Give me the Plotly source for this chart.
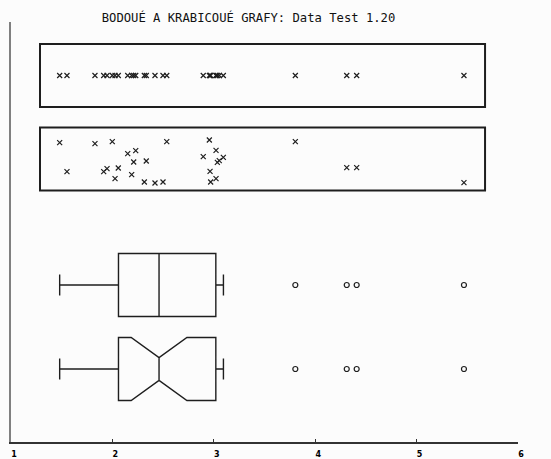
import plotly.graph_objects as go

# ---- data ----
values = [1.480, 1.552, 1.828, 1.914, 1.947, 1.999, 2.026, 2.058, 2.151, 2.190,
          2.210, 2.230, 2.315, 2.334, 2.420, 2.499, 2.536, 2.896, 2.956, 2.963,
          2.969, 3.022, 3.022, 3.035, 3.054, 3.094, 3.804, 4.311, 4.409, 5.467]
# vertical jitter of each point in the jittered dot plot (px, + = up)
jitter = [16.3, -12.7, 15.3, -12.7, -9.7, 17.3, -19.7, -9.0, 5.3, -15.7,
          -3.0, 8.3, -23.0, -2.0, -24.0, -23.0, 17.3, 2.3, 19.0, -12.3,
          -23.0, 8.7, -19.7, -3.3, -1.7, 1.7, 17.3, -8.7, -8.7, -23.7]
box_q1 = [2.06]
box_median = [2.46]
box_q3 = [3.02]
box_lowerfence = [1.48]
box_upperfence = [3.095]
notch_span = [0.275]
outliers = [3.804, 4.311, 4.409, 5.467]
tick_vals = [1, 2, 3, 4, 5, 6]
tick_text = ["1", "2", "3", "4", "5", "6"]
title_text = "BODOUÉ A KRABICOUÉ GRAFY: Data Test 1.20"

# ---- layout constants (vertical positions in px above the x axis) ----
Y_DOT = 366.5
Y_JIT = 283.0
Y_BOX = 157.0
Y_NOTCH = 73.0
BOX_W = 63.0
STRIP_HALF = 31.5
FRAME_X0, FRAME_X1 = 1.286, 5.675
INK = "#1e1e1e"

fig = go.Figure()

# dot plot
fig.add_trace(go.Scatter(
    x=values, y=[Y_DOT] * len(values), mode="markers",
    marker=dict(symbol="x-thin", size=5, color=INK, line=dict(width=1.2, color=INK)),
    showlegend=False, hoverinfo="x"))

# jittered dot plot
fig.add_trace(go.Scatter(
    x=values, y=[Y_JIT + j for j in jitter], mode="markers",
    marker=dict(symbol="x-thin", size=5, color=INK, line=dict(width=1.2, color=INK)),
    showlegend=False, hoverinfo="x"))

# plain box plot
fig.add_trace(go.Box(
    q1=box_q1, median=box_median, q3=box_q3,
    lowerfence=box_lowerfence, upperfence=box_upperfence,
    y=[Y_BOX], orientation="h", width=BOX_W, whiskerwidth=0.33,
    boxpoints=False, fillcolor="rgba(0,0,0,0)",
    line=dict(color=INK, width=1.4), showlegend=False))

# notched box plot
fig.add_trace(go.Box(
    q1=box_q1, median=box_median, q3=box_q3,
    lowerfence=box_lowerfence, upperfence=box_upperfence,
    notched=True, notchspan=notch_span, notchwidth=0.32,
    y=[Y_NOTCH], orientation="h", width=BOX_W, whiskerwidth=0.33,
    boxpoints=False, fillcolor="rgba(0,0,0,0)",
    line=dict(color=INK, width=1.4), showlegend=False))

# outliers
for yc in (Y_BOX, Y_NOTCH):
    fig.add_trace(go.Scatter(
        x=outliers, y=[yc] * len(outliers), mode="markers",
        marker=dict(symbol="circle-open", size=5, color=INK,
                    line=dict(width=1.2, color=INK)),
        showlegend=False, hoverinfo="x"))

# frames around the dot plots
for yc in (Y_DOT, Y_JIT):
    fig.add_shape(type="rect", xref="x", yref="y",
                  x0=FRAME_X0, x1=FRAME_X1, y0=yc - STRIP_HALF, y1=yc + STRIP_HALF,
                  line=dict(color=INK, width=2), layer="below")

fig.update_layout(
    width=551, height=459,
    margin=dict(l=11, r=33, t=22, b=17),
    paper_bgcolor="#fcfcfc", plot_bgcolor="#fcfcfc",
    title=dict(text=title_text, x=248.5 / 551, xref="container", xanchor="center",
               y=1 - 18 / 459, yref="container", yanchor="middle",
               font=dict(family="DejaVu Sans Mono", size=12.2, color="#111")),
    xaxis=dict(range=[1, 6], tickvals=tick_vals, ticktext=tick_text,
               showgrid=False, zeroline=False, showline=True, automargin=False,
               linecolor="#333", linewidth=2,
               ticks="inside", ticklen=3, tickwidth=1, tickcolor="#333",
               ticklabelshift=3, ticklabelstandoff=3,
               tickfont=dict(family="DejaVu Sans", size=8, color="#000",
                             weight="bold")),
    yaxis=dict(range=[0, 420], showgrid=False, zeroline=False, showline=True,
               automargin=False,
               linecolor="#808080", linewidth=2, showticklabels=False, ticks=""),
    boxmode="overlay",
)

fig.write_html("out.html")
